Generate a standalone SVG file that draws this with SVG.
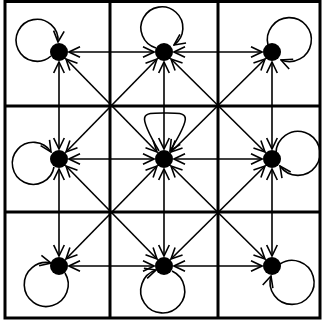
<svg xmlns="http://www.w3.org/2000/svg" width="324" height="327" viewBox="0 0 324 327">
<style>
.grid{fill:none;stroke:#000;stroke-width:3}
.edge{fill:none;stroke:#000;stroke-width:1.6;marker-start:url(#arr);marker-end:url(#arr)}
.loop{fill:none;stroke:#000;stroke-width:1.6;marker-end:url(#arr)}
.node{fill:#000}
</style>
<defs>
<marker id="arr" markerUnits="userSpaceOnUse" viewBox="0 0 13 13" markerWidth="13" markerHeight="13" refX="12" refY="6.5" orient="auto-start-reverse">
<path d="M1,1.2 L12,6.5 L1,11.8" fill="none" stroke="#000" stroke-width="1.6"/>
</marker>
</defs>
<rect width="324" height="327" fill="#fff"/>
<g id="grid">
<rect class="grid" x="5" y="1.5" width="315" height="316.5"/>
<line class="grid" x1="110" y1="1.5" x2="110" y2="318"/>
<line class="grid" x1="218" y1="1.5" x2="218" y2="318"/>
<line class="grid" x1="5" y1="106" x2="320" y2="106"/>
<line class="grid" x1="5" y1="212" x2="320" y2="212"/>
</g>
<g id="connectors">
<line class="edge" x1="69" y1="52" x2="154" y2="52"/>
<line class="edge" x1="174" y1="52" x2="262" y2="52"/>
<line class="edge" x1="69" y1="159" x2="154" y2="159"/>
<line class="edge" x1="174" y1="159" x2="262" y2="159"/>
<line class="edge" x1="69" y1="266" x2="154" y2="266"/>
<line class="edge" x1="174" y1="266" x2="262" y2="266"/>
<line class="edge" x1="59" y1="62" x2="59" y2="149"/>
<line class="edge" x1="59" y1="169" x2="59" y2="256"/>
<line class="edge" x1="164" y1="62" x2="164" y2="149"/>
<line class="edge" x1="164" y1="169" x2="164" y2="256"/>
<line class="edge" x1="272" y1="62" x2="272" y2="149"/>
<line class="edge" x1="272" y1="169" x2="272" y2="256"/>
<line class="edge" x1="66" y1="59" x2="157" y2="152"/>
<line class="edge" x1="157" y1="59" x2="66" y2="152"/>
<line class="edge" x1="171" y1="59" x2="265" y2="152"/>
<line class="edge" x1="265" y1="59" x2="171" y2="152"/>
<line class="edge" x1="66" y1="166" x2="157" y2="259"/>
<line class="edge" x1="157" y1="166" x2="66" y2="259"/>
<line class="edge" x1="171" y1="166" x2="265" y2="259"/>
<line class="edge" x1="265" y1="166" x2="171" y2="259"/>
<path class="loop" d="M51,56 A21,21 0 1 1 58,42"/>
<path class="loop" d="M156,48 A21,21 0 1 1 174,45"/>
<path class="loop" d="M268,45 A22,22 0 1 1 281,60"/>
<path class="loop" d="M54,167 A21,21 0 1 1 51,152"/>
<path class="loop" d="M159,151 C136,112 142,113 165,113 C188,113 194,112 170,151"/>
<path class="loop" d="M276,153 A22,22 0 1 1 280,166"/>
<path class="loop" d="M65,273 A22,22 0 1 1 51,263"/>
<path class="loop" d="M172,271 A22,22 0 1 1 156,270"/>
<path class="loop" d="M280,264 A22,22 0 1 1 271,276"/>
</g>
<g id="n00"><circle class="node" cx="59" cy="52" r="9"/></g>
<g id="n01"><circle class="node" cx="164" cy="52" r="9"/></g>
<g id="n02"><circle class="node" cx="272" cy="52" r="9"/></g>
<g id="n10"><circle class="node" cx="59" cy="159" r="9"/></g>
<g id="n11"><circle class="node" cx="164" cy="159" r="9"/></g>
<g id="n12"><circle class="node" cx="272" cy="159" r="9"/></g>
<g id="n20"><circle class="node" cx="59" cy="266" r="9"/></g>
<g id="n21"><circle class="node" cx="164" cy="266" r="9"/></g>
<g id="n22"><circle class="node" cx="272" cy="266" r="9"/></g>
</svg>
